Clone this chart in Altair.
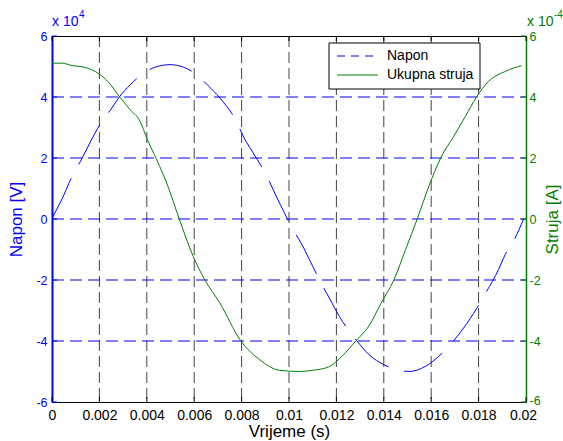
import altair as alt
import pandas as pd

# ---- data ----
# time (s) and voltage (x 10^4 V)
t_napon = [0.0, 0.0004, 0.00085, 0.0012, 0.0016, 0.00208, 0.00249, 0.00284, 0.0033,
           0.00375, 0.00432, 0.00498, 0.00554, 0.0061, 0.00659, 0.00708, 0.00778,
           0.00806, 0.00862, 0.00904, 0.00932, 0.00995, 0.01016, 0.01051, 0.011,
           0.01135, 0.0117, 0.01212, 0.01285, 0.01338, 0.01401, 0.01464, 0.01506,
           0.01576, 0.01632, 0.01681, 0.01737, 0.01793, 0.01828, 0.01884, 0.01912,
           0.01947, 0.0199]
napon = [0.03, 0.62, 1.4, 1.89, 2.5, 3.17, 3.6, 4.0, 4.4,
         4.71, 4.97, 5.06, 4.98, 4.73, 4.37, 3.97, 3.2,
         2.73, 2.0, 1.45, 0.98, -0.02, -0.33, -0.79, -1.55,
         -2.1, -2.59, -3.19, -3.98, -4.45, -4.78, -4.96, -5.0,
         -4.83, -4.5, -4.12, -3.57, -2.92, -2.45, -1.66, -1.17,
         -0.73, 0.0]

# time (s) and total current (x 10^-4 A)
t_struja = [0.0, 0.00043, 0.00085, 0.00134, 0.002, 0.00239, 0.00284, 0.0033, 0.00372,
            0.004, 0.00442, 0.00484, 0.00537, 0.00596, 0.00645, 0.00708, 0.00796,
            0.00876, 0.0096, 0.01044, 0.011, 0.01167, 0.01226, 0.01282, 0.01338,
            0.01387, 0.01443, 0.01492, 0.01541, 0.0159, 0.0164, 0.01695, 0.01744,
            0.01791, 0.01842, 0.01913, 0.01982]
struja = [5.11, 5.11, 5.03, 4.98, 4.75, 4.48, 4.02, 3.58, 3.2,
          2.65, 1.94, 1.18, 0.0, -1.23, -2.0, -2.75, -3.99,
          -4.61, -4.96, -5.0, -4.96, -4.85, -4.48, -4.0, -3.5,
          -2.78, -1.99, -1.0, 0.0, 1.07, 2.0, 2.71, 3.36,
          4.0, 4.51, 4.84, 5.03]

x_ticks = [0, 0.002, 0.004, 0.006, 0.008, 0.01, 0.012, 0.014, 0.016, 0.018, 0.02]
y_ticks = [-6, -4, -2, 0, 2, 4, 6]
grid_x = [0.002, 0.004, 0.006, 0.008, 0.01, 0.012, 0.014, 0.016, 0.018]
grid_y = [-4, -2, 0, 2, 4]
legend_labels = ["Napon", "Ukupna struja"]

BLUE = "#0000ff"
GREEN = "#008000"
FONT = "Liberation Sans"
W, H = 474, 366

df_v = pd.DataFrame({"t": t_napon, "v": napon})
df_c = pd.DataFrame({"t": t_struja, "c": struja})
df_gx = pd.DataFrame({"t": grid_x})
df_gy = pd.DataFrame({"y": grid_y})
df_xt = pd.DataFrame({"t": x_ticks})
df_yt = pd.DataFrame({"y": y_ticks})
one = pd.DataFrame({"a": [0]})

xscale = alt.Scale(domain=[0, 0.02], nice=False, zero=False)
yscale = alt.Scale(domain=[-6, 6], nice=False, zero=False)

x_axis = alt.Axis(values=x_ticks, labelExpr="toString(datum.value)", ticks=False,
                  grid=False, domain=False, labelFont=FONT, labelFontSize=14,
                  labelColor="black", labelPadding=6, title="Vrijeme (s)",
                  titleFont=FONT, titleFontSize=17, titleFontWeight="normal",
                  titleColor="black", titlePadding=1, labelFlush=False,
                  labelOffset={"condition": {"test": "datum.value >= 0.02", "value": -3},
                               "value": 0})
X = alt.X("t:Q", scale=xscale, axis=x_axis)

# vertical grid
vgrid = alt.Chart(df_gx).mark_rule(color="#444444", strokeWidth=1, strokeDash=[11, 5]).encode(
    x=X, y=alt.value(0), y2=alt.value(H))
# horizontal grid (left scale)
hgrid = alt.Chart(df_gy).mark_rule(color=BLUE, strokeWidth=1, strokeDash=[12, 6]).encode(
    y=alt.Y("y:Q", scale=yscale, axis=None), x=alt.value(0), x2=alt.value(W))

# inner ticks
tick_b = alt.Chart(df_xt).mark_rule(color="black").encode(x=X, y=alt.value(H - 5), y2=alt.value(H))
tick_t = alt.Chart(df_xt).mark_rule(color="black").encode(x=X, y=alt.value(0), y2=alt.value(5))
tick_l = alt.Chart(df_yt).mark_rule(color=BLUE).encode(
    y=alt.Y("y:Q", scale=yscale, axis=None), x=alt.value(0), x2=alt.value(5))
tick_r = alt.Chart(df_yt).mark_rule(color=GREEN).encode(
    y=alt.Y("y:Q", scale=yscale, axis=None), x=alt.value(W - 5), x2=alt.value(W))

# voltage (left axis)
left_axis = alt.Axis(orient="left", values=y_ticks, labelExpr="toString(datum.value)",
                     ticks=False, grid=False, domainColor=BLUE, domainWidth=2,
                     labelColor=BLUE, labelFont=FONT, labelFontSize=12.5, labelPadding=5,
                     title="Napon [V]", titleColor=BLUE, titleFont=FONT, titleFontSize=17,
                     titleFontWeight="normal", titlePadding=10)
line_v = alt.Chart(df_v).mark_line(color=BLUE, strokeWidth=1, strokeDash=[44, 16],
                                   interpolate="monotone").encode(
    x=X, y=alt.Y("v:Q", scale=yscale, axis=left_axis))

# current (right axis)
right_axis = alt.Axis(orient="right", values=y_ticks, labelExpr="toString(datum.value)",
                      ticks=False, grid=False, domainColor=GREEN, domainWidth=1.5,
                      labelColor=GREEN, labelFont=FONT, labelFontSize=12.5, labelPadding=3,
                      labelOffset={"condition": {"test": "datum.value <= -6", "value": -2},
                                   "value": 0},
                      title="Struja [A]", titleColor=GREEN, titleFont=FONT, titleFontSize=17,
                      titleFontWeight="normal", titlePadding=4, titleAngle=270,
                      titleBaseline="top")
line_c = alt.Chart(df_c).mark_line(color=GREEN, strokeWidth=1, interpolate="monotone").encode(
    x=X, y=alt.Y("c:Q", scale=yscale, axis=right_axis))

# exponent labels
exp_l = alt.Chart(one).mark_text(text="x 10", color=BLUE, font=FONT, fontSize=14,
                                 align="left", baseline="alphabetic").encode(
    x=alt.value(0), y=alt.value(-10))
exp_l2 = alt.Chart(one).mark_text(text="4", color=BLUE, font=FONT, fontSize=10,
                                  align="left", baseline="alphabetic").encode(
    x=alt.value(27), y=alt.value(-18))
exp_r = alt.Chart(one).mark_text(text="x 10", color=GREEN, font=FONT, fontSize=14,
                                 align="left", baseline="alphabetic").encode(
    x=alt.value(W + 1), y=alt.value(-10))
exp_r2 = alt.Chart(one).mark_text(text="-4", color=GREEN, font=FONT, fontSize=10,
                                  align="left", baseline="alphabetic").encode(
    x=alt.value(W + 28), y=alt.value(-18))

# legend
leg_box = alt.Chart(one).mark_rect(fill="white", stroke="black", strokeWidth=1).encode(
    x=alt.value(277), x2=alt.value(428), y=alt.value(7), y2=alt.value(53))
leg_v = alt.Chart(one).mark_rule(color=BLUE, strokeWidth=1, strokeDash=[8, 6]).encode(
    x=alt.value(285), x2=alt.value(326), y=alt.value(20))
leg_c = alt.Chart(one).mark_rule(color=GREEN, strokeWidth=1).encode(
    x=alt.value(285), x2=alt.value(326), y=alt.value(39))
leg_t1 = alt.Chart(one).mark_text(text=legend_labels[0], color="black", font=FONT, fontSize=14,
                                  align="left", baseline="middle").encode(
    x=alt.value(335), y=alt.value(20))
leg_t2 = alt.Chart(one).mark_text(text=legend_labels[1], color="black", font=FONT, fontSize=14,
                                  align="left", baseline="middle").encode(
    x=alt.value(335), y=alt.value(39))

chart = alt.layer(
    vgrid, hgrid, tick_b, tick_t, tick_l, tick_r, line_v, line_c,
    exp_l, exp_l2, exp_r, exp_r2, leg_box, leg_v, leg_c, leg_t1, leg_t2
).resolve_scale(y="independent").properties(
    width=W, height=H,
    padding={"left": 52, "top": 36, "right": 37, "bottom": 39},
    autosize=alt.AutoSizeParams(type="none"),
    background="white",
).configure_view(stroke="black", strokeWidth=1)

chart.save("out.html", embed_options={"renderer": "svg", "actions": False})
